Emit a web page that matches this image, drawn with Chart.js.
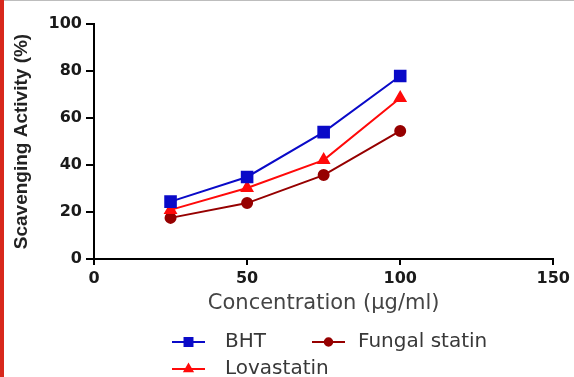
<!DOCTYPE html>
<html>
<head>
<meta charset="utf-8">
<script src="https://cdn.jsdelivr.net/npm/chart.js@4/dist/chart.umd.min.js"></script>
<style>
  html, body { margin: 0; padding: 0; background: #fff; }
  #wrap { position: relative; width: 574px; height: 377px; overflow: hidden; }
  #bar { position: absolute; left: 0; top: 0; width: 4px; height: 377px; background: #d8281c; }
  #topline { position: absolute; left: 0; top: 0; width: 574px; height: 1px; background: #bdbdbd; }
</style>
</head>
<body>
<div id="wrap">
  <canvas id="scavChart" width="574" height="377"></canvas>
  <div id="topline"></div>
  <div id="bar"></div>
</div>
<script>
const concentrations = [25, 50, 75, 100];
const bhtValues = [24.4, 34.9, 54.0, 77.9];
const lovastatinValues = [20.9, 30.2, 42.1, 68.5];
const fungalValues = [17.5, 23.8, 35.7, 54.5];
const seriesNames = ['BHT', 'Lovastatin', 'Fungal statin'];
const xTicks = [0, 50, 100, 150];
const yTicks = [0, 20, 40, 60, 80, 100];

const WIDE = "'DejaVu Sans', Verdana, sans-serif";
const ARIAL = "'Liberation Sans', Arial, Helvetica, sans-serif";

function toPoints(values) {
    return concentrations.map(function (c, i) { return { x: c, y: values[i] }; });
}

// legend drawn by hand: line + marker, two columns like the original
const legendPlugin = {
    id: 'lineLegend',
    afterDraw(chart) {
        const ctx = chart.ctx;
        const slots = [
            { ds: 0, x: 172, y: 342, tx: 225 },
            { ds: 2, x: 312, y: 342, tx: 358 },
            { ds: 1, x: 172, y: 369, tx: 225 }
        ];
        ctx.save();
        slots.forEach(function (s) {
            const ds = chart.data.datasets[s.ds];
            ctx.strokeStyle = ds.borderColor;
            ctx.lineWidth = 2;
            ctx.beginPath();
            ctx.moveTo(s.x, s.y);
            ctx.lineTo(s.x + 33, s.y);
            ctx.stroke();
            ctx.fillStyle = ds.backgroundColor;
            Chart.helpers.drawPoint(ctx, { pointStyle: ds.pointStyle, radius: ds.pointRadius * 0.75, rotation: 0, borderWidth: 1 }, s.x + 16.5, s.y);
            ctx.fillStyle = '#383838';
            ctx.font = '20px ' + WIDE;
            ctx.textBaseline = 'middle';
            ctx.textAlign = 'left';
            ctx.fillText(ds.label, s.tx, s.y);
        });
        ctx.restore();
    }
};

new Chart(document.getElementById('scavChart'), {
    type: 'line',
    data: {
        datasets: [
            { label: seriesNames[0], data: toPoints(bhtValues), borderColor: '#0a0ac8', backgroundColor: '#0a0ac8', pointStyle: 'rect', pointRadius: 7.5, borderWidth: 2 },
            { label: seriesNames[1], data: toPoints(lovastatinValues), borderColor: '#ff0a0a', backgroundColor: '#ff0a0a', pointStyle: 'triangle', pointRadius: 6, borderWidth: 2 },
            { label: seriesNames[2], data: toPoints(fungalValues), borderColor: '#960000', backgroundColor: '#960000', pointStyle: 'circle', pointRadius: 5, borderWidth: 2 }
        ]
    },
    options: {
        responsive: false,
        animation: false,
        layout: { padding: { left: 0, right: 19, top: 24, bottom: 61 } },
        plugins: { legend: { display: false }, tooltip: { enabled: false } },
        scales: {
            x: {
                type: 'linear',
                min: 0, max: 150,
                afterBuildTicks: function (s) { s.ticks = xTicks.map(function (v) { return { value: v }; }); },
                afterFit: function (s) { s.height = 57; },
                border: { color: '#000', width: 2 },
                grid: { drawOnChartArea: false, color: '#000', tickLength: 6, lineWidth: 2 },
                ticks: { color: '#1a1a1a', padding: 4, font: { family: WIDE, size: 16, weight: 'bold' } },
                title: { display: true, text: 'Concentration (µg/ml)', color: '#444', padding: { top: 0, bottom: 0 }, font: { family: WIDE, size: 21 } }
            },
            y: {
                min: 0, max: 100,
                afterBuildTicks: function (s) { s.ticks = yTicks.map(function (v) { return { value: v }; }); },
                afterFit: function (s) { s.width = 94; },
                border: { color: '#000', width: 2 },
                grid: { drawOnChartArea: false, color: '#000', tickLength: 8, lineWidth: 2 },
                ticks: { color: '#1a1a1a', padding: 4, font: { family: WIDE, size: 16, weight: 'bold' } },
                title: { display: true, text: 'Scavenging Activity (%)', color: '#222', padding: { top: 10, bottom: 0 }, font: { family: ARIAL, size: 19, weight: 'bold' } }
            }
        }
    },
    plugins: [legendPlugin]
});
</script>
</body>
</html>
